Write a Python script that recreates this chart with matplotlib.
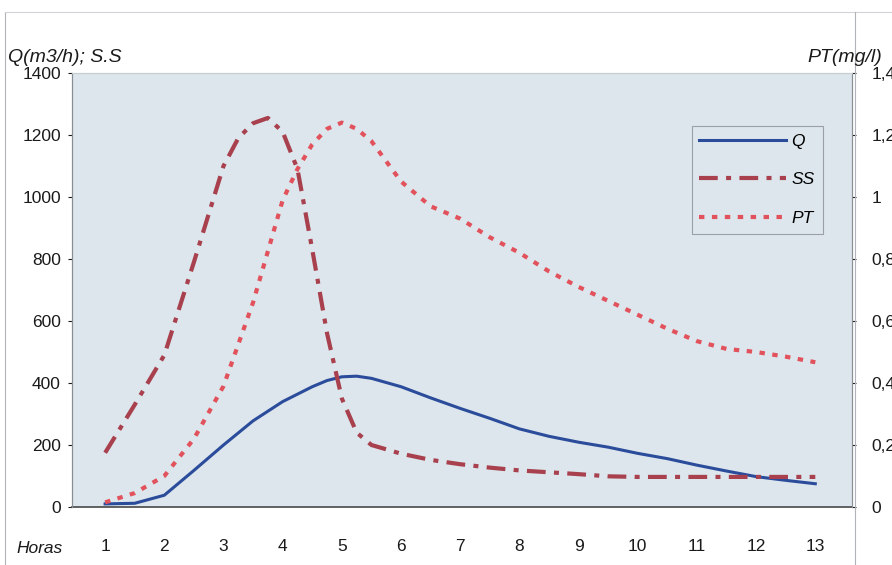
import matplotlib.pyplot as plt
from matplotlib.lines import Line2D

plt.rcParams['font.family'] = ['Liberation Sans', 'DejaVu Sans']

# hours (read at half-hour steps, quarter steps near the peaks)
q_x = [1, 1.5, 2, 2.5, 3, 3.5, 4, 4.5, 4.75, 5, 5.25, 5.5, 6, 6.5, 7, 7.5,
       8, 8.5, 9, 9.5, 10, 10.5, 11, 11.5, 12, 12.5, 13]
q = [10, 12, 38, 118, 200, 278, 340, 388, 408, 420, 422, 415, 388, 352, 318, 286,
     252, 228, 209, 193, 173, 156, 135, 116, 98, 86, 75]
ss_x = [1, 1.5, 2, 2.5, 3, 3.25, 3.5, 3.75, 4, 4.25, 4.5, 4.75, 5, 5.25, 5.5, 6, 6.5, 7, 7.5,
        8, 8.5, 9, 9.5, 10, 10.5, 11, 11.5, 12, 12.5, 13]
ss = [175, 330, 490, 790, 1100, 1190, 1238, 1255, 1210, 1090, 830, 560, 350, 240, 200, 172, 152, 138, 127,
      118, 112, 106, 99, 97, 97, 97, 97, 97, 97, 97]
pt_x = [1, 1.5, 2, 2.5, 3, 3.5, 4, 4.25, 4.5, 4.75, 5, 5.25, 5.5, 6, 6.5, 7, 7.5,
        8, 8.5, 9, 9.5, 10, 10.5, 11, 11.5, 12, 12.5, 13]
pt = [0.015, 0.045, 0.10, 0.22, 0.39, 0.66, 0.99, 1.09, 1.17, 1.22, 1.24, 1.22, 1.18, 1.05, 0.97, 0.93, 0.87,
      0.82, 0.76, 0.71, 0.665, 0.62, 0.575, 0.535, 0.51, 0.50, 0.485, 0.467]

left_ticks = [0, 200, 400, 600, 800, 1000, 1200, 1400]
right_ticks = [0, 0.2, 0.4, 0.6, 0.8, 1.0, 1.2, 1.4]
right_labels = ['0', '0,2', '0,4', '0,6', '0,8', '1', '1,2', '1,4']

fig = plt.figure(figsize=(8.92, 5.65), dpi=100)
ax = fig.add_axes([72/892, 1 - 507/565, 780/892, 434/565])
ax.set_facecolor('#dce6ec')

ax.plot(q_x, q, color='#2b4c9b', lw=2.2, label='Q', zorder=3,
        solid_joinstyle='round')
ax.plot(ss_x, ss, color='#a8404e', lw=3, linestyle=(0, (4.5, 2, 1.2, 2)),
        label='SS', zorder=3, dash_joinstyle='round')

ax2 = ax.twinx()
ax2.plot(pt_x, pt, color='#e2525c', lw=3, linestyle=(0, (1.3, 1.8)),
         label='PT', zorder=3, dash_joinstyle='round')

ax.set_xlim(0.44, 13.62)
ax.set_ylim(0, 1400)
ax2.set_ylim(0, 1.4)

ax.set_xticks(range(1, 14))
ax.set_yticks(left_ticks)
ax2.set_yticks(right_ticks)
ax2.set_yticklabels(right_labels)

ax.tick_params(axis='x', length=0, pad=23, labelsize=12.5, colors='#1a1a1a')
ax.tick_params(axis='y', length=3, width=0.8, pad=5, labelsize=12.5, colors='#1a1a1a')
ax2.tick_params(axis='y', length=3, width=0.8, pad=11, labelsize=12.5, colors='#1a1a1a')

for s in ['left', 'right', 'top']:
    ax.spines[s].set_color('#8a8f94')
    ax2.spines[s].set_color('#8a8f94')
ax.spines['bottom'].set_color('#555555')
ax.spines['bottom'].set_linewidth(1.3)
ax2.spines['bottom'].set_visible(False)
ax.spines['top'].set_color('#c8cdd0')
ax2.spines['top'].set_color('#c8cdd0')

fig.text(8/892, 1 - 62/565, 'Q(m3/h); S.S', fontsize=14, style='italic',
         va='baseline', ha='left', color='#1a1a1a')
fig.text(807/892, 1 - 62/565, 'PT(mg/l)', fontsize=14, style='italic',
         va='baseline', ha='left', color='#1a1a1a')
fig.text(16/892, 1 - 553/565, 'Horas', fontsize=12.5, style='italic',
         va='baseline', ha='left', color='#1a1a1a')

handles = [ax.get_lines()[0], ax.get_lines()[1], ax2.get_lines()[0]]
leg = ax2.legend(handles, ['Q', 'SS', 'PT'], loc='upper left',
                 bbox_to_anchor=(683/892, 1 - 117/565), bbox_transform=fig.transFigure,
                 frameon=True, fancybox=False, handlelength=5.0, labelspacing=1.35,
                 fontsize=12.5, borderpad=0.45, handletextpad=0.3)
leg.get_frame().set_facecolor('#dce6ec')
leg.get_frame().set_edgecolor('#8a8f94')
leg.get_frame().set_linewidth(0.8)
for t in leg.get_texts():
    t.set_fontstyle('italic')

# outer chart frame
fig.add_artist(Line2D([5/892, 5/892], [0.0, 1 - 12/565], transform=fig.transFigure,
                      color='#b0b4b8', lw=0.8))
fig.add_artist(Line2D([5/892, 1.0], [1 - 12/565, 1 - 12/565], transform=fig.transFigure,
                      color='#d0d4d8', lw=0.8))
fig.add_artist(Line2D([855/892, 855/892], [0.0, 1 - 12/565], transform=fig.transFigure,
                      color='#b0b4b8', lw=0.8))

fig.savefig('out.png', dpi=100, facecolor='white')
